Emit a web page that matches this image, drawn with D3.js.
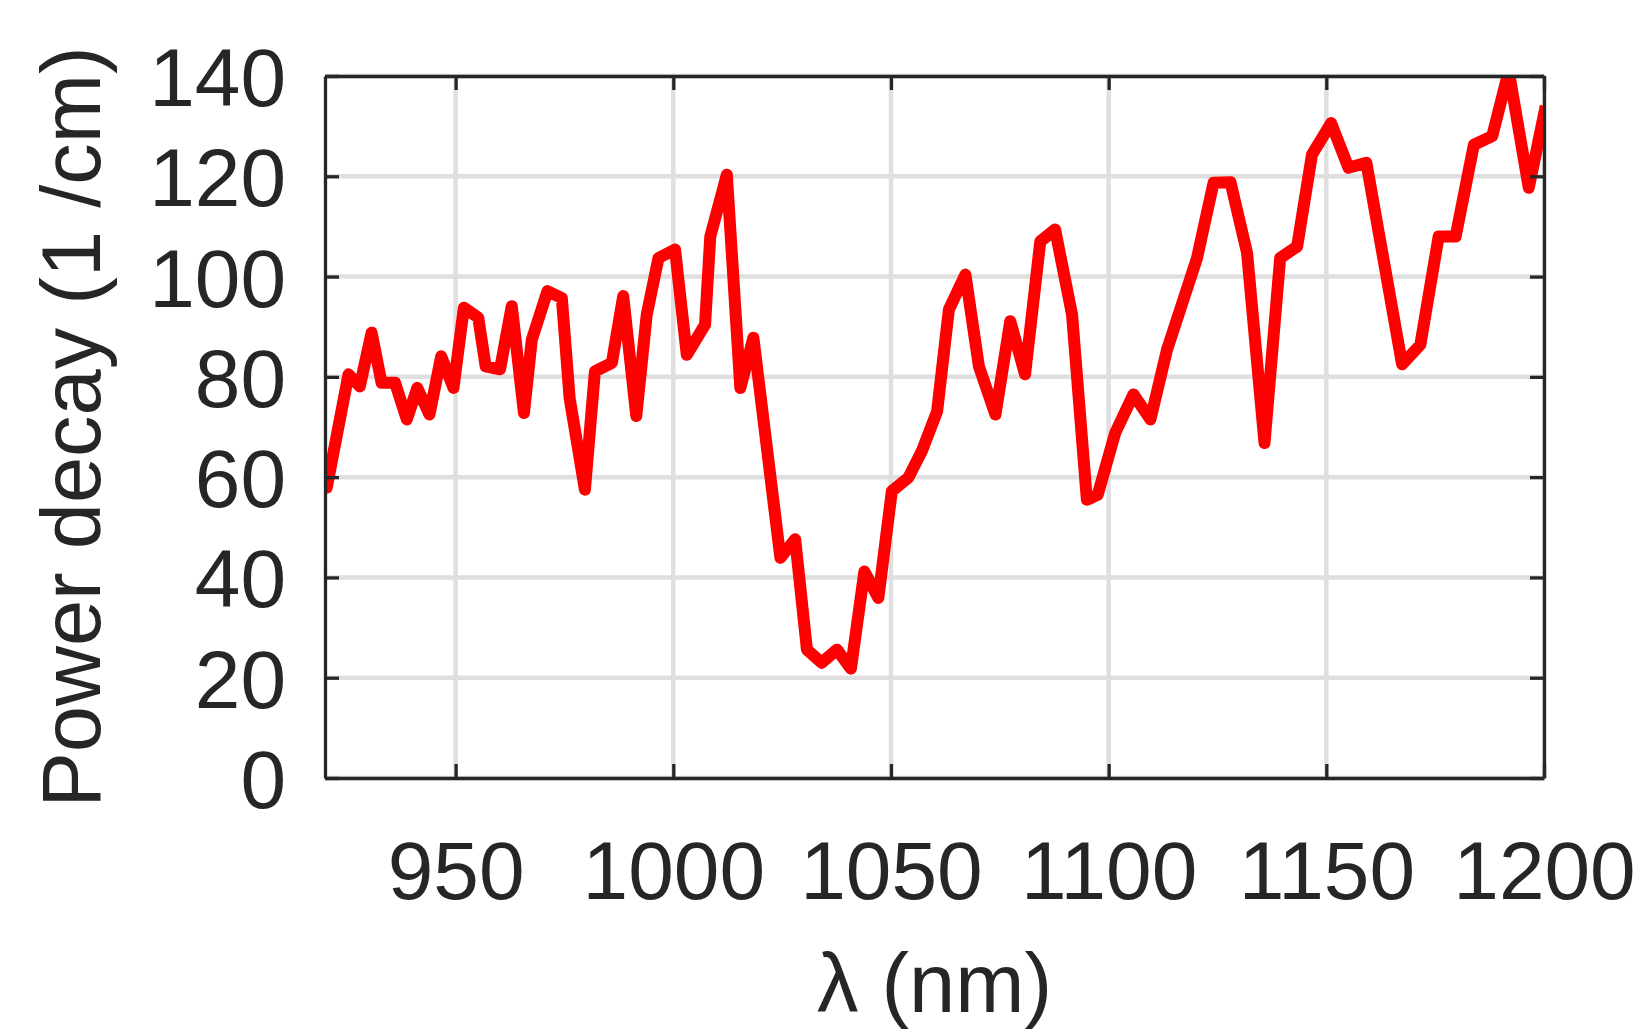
<!DOCTYPE html>
<html>
<head>
<meta charset="utf-8">
<script src="https://cdn.jsdelivr.net/npm/d3@7"></script>
<style>
  body { margin: 0; background: #fff; }
  text { font-family: "Liberation Sans", Arial, sans-serif; fill: #262626; }
</style>
</head>
<body>
<script>
var wavelength = [919.6, 920.4, 925.4, 928.0, 930.7, 933.0, 936.1, 938.8, 941.2, 944.0,
  946.7, 949.5, 951.9, 955.2, 956.9, 960.2, 962.9, 965.7, 967.5, 971.1,
  974.4, 976.2, 979.7, 982.0, 985.9, 988.5, 991.5, 993.9, 996.6, 1000.4,
  1003.1, 1007.3, 1008.5, 1012.3, 1015.4, 1018.4, 1024.6, 1028.0, 1030.7, 1034.1,
  1037.6, 1040.8, 1043.9, 1047.1, 1050.2, 1054.0, 1057.1, 1060.6, 1063.3, 1067.1,
  1070.2, 1074.0, 1077.4, 1080.8, 1084.3, 1087.7, 1091.6, 1095.0, 1097.5, 1101.5,
  1105.7, 1109.6, 1113.4, 1120.3, 1124.1, 1128.0, 1131.8, 1135.8, 1139.4, 1143.3,
  1146.7, 1151.1, 1155.1, 1159.2, 1167.4, 1171.6, 1175.8, 1179.7, 1183.9, 1188.1,
  1191.9, 1196.5, 1200.4];

var decay = [61.9, 57.9, 80.5, 78.1, 88.8, 78.8, 78.8, 71.5, 77.8, 72.5,
  84.1, 77.8, 93.8, 91.8, 82.1, 81.5, 94.1, 72.8, 87.4, 97.1,
  95.7, 75.7, 57.5, 81.1, 82.8, 96.1, 72.2, 92.4, 103.7, 105.4,
  84.4, 90.4, 108.0, 120.3, 77.8, 87.8, 43.9, 47.6, 25.6, 23.0,
  25.6, 21.8, 41.2, 35.9, 57.2, 59.9, 65.2, 73.1, 93.4, 100.4,
  82.1, 72.5, 91.1, 80.5, 107.0, 109.4, 92.4, 55.5, 56.5, 68.8,
  76.5, 71.5, 85.4, 103.7, 118.7, 118.8, 104.7, 66.8, 103.7, 106.0,
  124.3, 130.6, 121.7, 122.7, 82.5, 86.4, 108.0, 108.0, 126.3, 128.0,
  141.0, 117.7, 134.0];

var xTicks = [950, 1000, 1050, 1100, 1150, 1200];
var yTicks = [0, 20, 40, 60, 80, 100, 120, 140];

var margin = {top: 76, right: 102, bottom: 254, left: 325},
    width = 1646 - margin.left - margin.right,
    height = 1032 - margin.top - margin.bottom;

var x = d3.scaleLinear().domain([920, 1200]).range([0, width]);
var y = d3.scaleLinear().domain([0, 140]).range([height, 0]);

var svg = d3.select("body").append("svg")
    .attr("width", 1646)
    .attr("height", 1032);

var g = svg.append("g")
    .attr("transform", "translate(" + margin.left + "," + margin.top + ")");

g.append("defs").append("clipPath").attr("id", "clip")
  .append("rect").attr("width", width).attr("height", height);

// grid
g.append("g").selectAll("line.gx")
  .data(xTicks).enter().append("line")
    .attr("x1", function(d) { return x(d); })
    .attr("x2", function(d) { return x(d); })
    .attr("y1", 0).attr("y2", height)
    .attr("stroke", "#dfdfdf").attr("stroke-width", 4.5);

g.append("g").selectAll("line.gy")
  .data(yTicks).enter().append("line")
    .attr("y1", function(d) { return y(d); })
    .attr("y2", function(d) { return y(d); })
    .attr("x1", 0).attr("x2", width)
    .attr("stroke", "#dfdfdf").attr("stroke-width", 4.5);

// the data line
var line = d3.line()
    .x(function(d, i) { return x(wavelength[i]); })
    .y(function(d) { return y(d); });

g.append("path")
    .attr("clip-path", "url(#clip)")
    .attr("d", line(decay))
    .attr("fill", "none")
    .attr("stroke", "#ff0000")
    .attr("stroke-width", 12)
    .attr("stroke-linejoin", "round");

// axes, ticks inward like matlab
function styleAxis(sel) {
  sel.select(".domain").attr("stroke", "#262626").attr("stroke-width", 3.3);
  sel.selectAll(".tick line").attr("stroke", "#262626").attr("stroke-width", 3.3);
  sel.selectAll(".tick text").attr("fill", "#262626");
}

var fs = 82;
var fmt = d3.format("d");

g.append("g")
    .attr("transform", "translate(0," + height + ")")
    .call(d3.axisBottom(x).tickValues(xTicks).tickFormat(fmt).tickSize(-14).tickSizeOuter(0).tickPadding(0))
    .call(styleAxis)
    .call(function(a) {
      a.selectAll(".tick text").attr("font-size", fs).attr("font-family", null)
        .attr("dy", null).attr("y", 121);
    });

g.append("g")
    .call(d3.axisLeft(y).tickValues(yTicks).tickFormat(fmt).tickSize(-14).tickSizeOuter(0).tickPadding(39))
    .call(styleAxis)
    .call(function(a) {
      a.selectAll(".tick text").attr("font-size", fs).attr("font-family", null)
        .attr("dy", "0.36em");
    });

g.append("g")
    .call(d3.axisTop(x).tickValues(xTicks).tickSize(-14).tickSizeOuter(0).tickFormat(""))
    .call(styleAxis);

g.append("g")
    .attr("transform", "translate(" + width + ",0)")
    .call(d3.axisRight(y).tickValues(yTicks).tickSize(-14).tickSizeOuter(0).tickFormat(""))
    .call(styleAxis);

// labels
svg.append("text")
    .attr("transform", "translate(100," + (margin.top + height / 2) + ") rotate(-90)")
    .attr("text-anchor", "middle")
    .attr("font-size", 83)
    .text("Power decay (1 /cm)");

svg.append("text")
    .attr("x", margin.left + width / 2)
    .attr("y", 1012)
    .attr("text-anchor", "middle")
    .attr("font-size", 83)
    .text("λ (nm)");
</script>
</body>
</html>
